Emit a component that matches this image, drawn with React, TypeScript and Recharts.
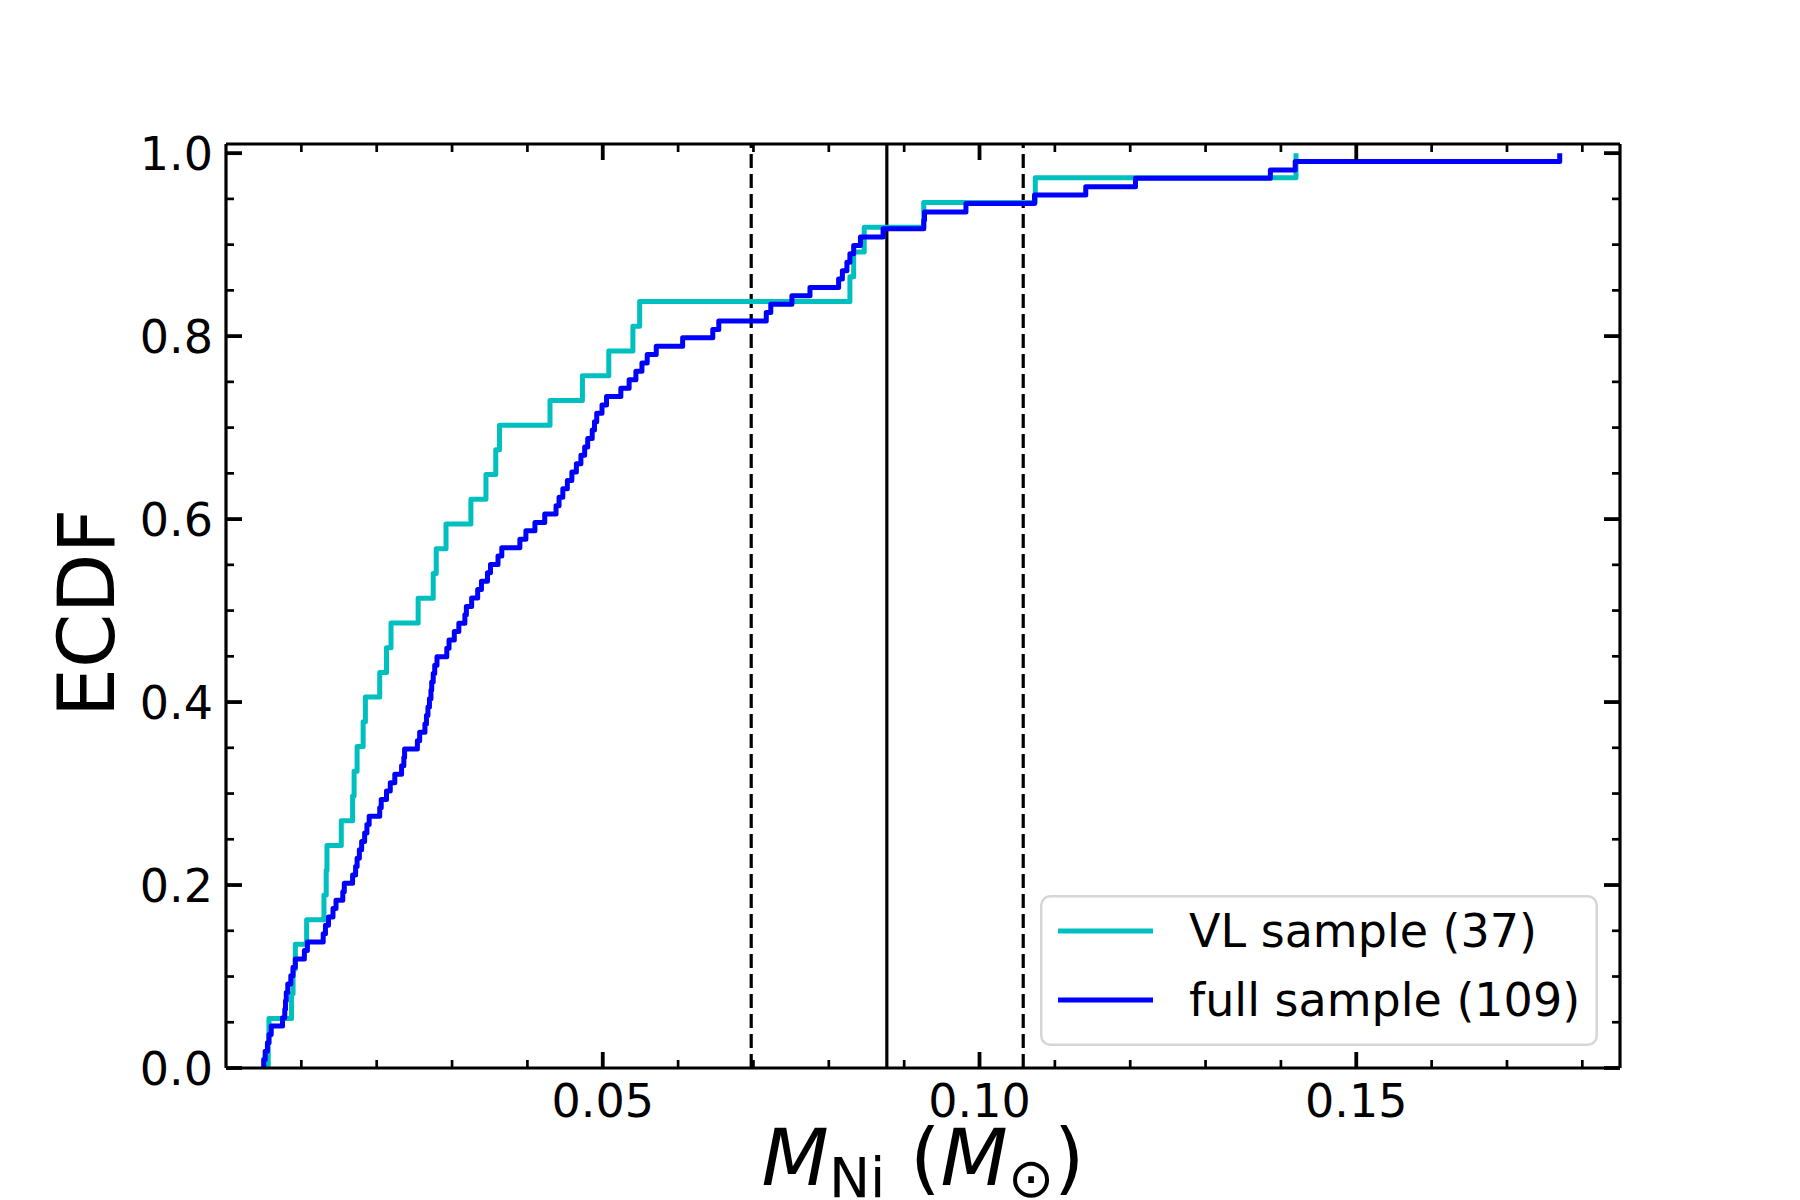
import React from 'react';
import { LineChart, Line, XAxis, YAxis, ReferenceLine, Legend } from 'recharts';

// Sorted 56Ni masses (M_sun)
const vlMass = [
  0.0056, 0.0057, 0.0087, 0.0089, 0.0092, 0.0107, 0.0130, 0.0133, 0.0134, 0.0153,
  0.0168, 0.0170, 0.0174, 0.0182, 0.0185, 0.0204, 0.0213, 0.0219, 0.0255, 0.0275,
  0.0279, 0.0292, 0.0325, 0.0345, 0.0358, 0.0363, 0.0430, 0.0473, 0.0508, 0.0540,
  0.0549, 0.0828, 0.0833, 0.0847, 0.0926, 0.1074, 0.1420,
];

const fullMass = [
  0.0050, 0.0052, 0.0055, 0.0057, 0.0060, 0.0075, 0.0078, 0.0079, 0.0080, 0.0082,
  0.0086, 0.0089, 0.0092, 0.0104, 0.0108, 0.0129, 0.0132, 0.0136, 0.0142, 0.0146,
  0.0155, 0.0157, 0.0168, 0.0172, 0.0174, 0.0177, 0.0180, 0.0184, 0.0187, 0.0190,
  0.0204, 0.0206, 0.0213, 0.0218, 0.0224, 0.0233, 0.0236, 0.0237, 0.0254, 0.0257,
  0.0264, 0.0266, 0.0268, 0.0270, 0.0272, 0.0273, 0.0275, 0.0277, 0.0280, 0.0293,
  0.0296, 0.0303, 0.0309, 0.0317, 0.0319, 0.0326, 0.0334, 0.0339, 0.0347, 0.0351,
  0.0361, 0.0366, 0.0390, 0.0398, 0.0410, 0.0423, 0.0438, 0.0442, 0.0447, 0.0453,
  0.0459, 0.0465, 0.0471, 0.0476, 0.0480, 0.0486, 0.0489, 0.0492, 0.0499, 0.0505,
  0.0524, 0.0535, 0.0544, 0.0552, 0.0559, 0.0571, 0.0606, 0.0646, 0.0654, 0.0717,
  0.0723, 0.0751, 0.0775, 0.0813, 0.0818, 0.0824, 0.0828, 0.0833, 0.0842, 0.0872,
  0.0926, 0.0927, 0.0982, 0.1073, 0.1141, 0.1207, 0.1386, 0.1419, 0.1770,
];

const seriesNames = ['VL sample (37)', 'full sample (109)'];
const seriesColors = ['#00bfbf', '#0000ff'];

// vertical reference lines: centre (solid) and the two dashed bounds
const meanLine = 0.0877;
const sigmaLines = [0.0697, 0.1058];

const xMajorTicks = [0.05, 0.10, 0.15];
const xAllTicks = [0.01, 0.02, 0.03, 0.04, 0.05, 0.06, 0.07, 0.08, 0.09, 0.10, 0.11, 0.12, 0.13, 0.14, 0.15, 0.16, 0.17, 0.18];
const yMajorTicks = [0.0, 0.2, 0.4, 0.6, 0.8, 1.0];
const yAllTicks = [0.0, 0.05, 0.1, 0.15, 0.2, 0.25, 0.3, 0.35, 0.4, 0.45, 0.5, 0.55, 0.6, 0.65, 0.7, 0.75, 0.8, 0.85, 0.9, 0.95, 1.0];

const xDomain = [0, 0.185];
const yDomain = [0, 1.01];

const ecdf = (arr: number[]) => {
  const n = arr.length;
  const pts = [{ x: arr[0], y: 0 }];
  arr.forEach((x, i) => pts.push({ x, y: (i + 1) / n }));
  return pts;
};

const vlSteps = ecdf(vlMass);
const fullSteps = ecdf(fullMass);

const FONT = 'DejaVu Sans, Liberation Sans, sans-serif';
const isMajor = (v: number, majors: number[]) => majors.some((m) => Math.abs(m - v) < 1e-9);

// plot frame (svg coordinates), set by the margins and axis sizes below
const PLOT_LEFT = 218;
const PLOT_TOP = 136;
const PLOT_RIGHT = 1612;
const PLOT_BOTTOM = 1060;

const MAJ_LEN = 16;
const MIN_LEN = 8;
const MAJ_W = 3.8;
const MIN_W = 2.7;
const AXIS_W = 3.2;
const TICK_FONT = 46;

const BottomTick = (props: any) => {
  const { x, payload } = props;
  const v = payload.value;
  const major = isMajor(v, xMajorTicks);
  const y = PLOT_BOTTOM;
  return (
    <g>
      <line x1={x} x2={x} y1={y} y2={y - (major ? MAJ_LEN : MIN_LEN)} stroke="#000" strokeWidth={major ? MAJ_W : MIN_W} />
      {major && (
        <text x={x} y={y + 49} textAnchor="middle" fontSize={TICK_FONT} fontFamily={FONT} fill="#000">
          {v.toFixed(2)}
        </text>
      )}
    </g>
  );
};

const TopTick = (props: any) => {
  const { x, payload } = props;
  const major = isMajor(payload.value, xMajorTicks);
  const y = PLOT_TOP;
  return <line x1={x} x2={x} y1={y} y2={y + (major ? MAJ_LEN : MIN_LEN)} stroke="#000" strokeWidth={major ? MAJ_W : MIN_W} />;
};

const LeftTick = (props: any) => {
  const { y, payload } = props;
  const v = payload.value;
  const major = isMajor(v, yMajorTicks);
  const x = PLOT_LEFT;
  return (
    <g>
      <line x1={x} x2={x + (major ? MAJ_LEN : MIN_LEN)} y1={y} y2={y} stroke="#000" strokeWidth={major ? MAJ_W : MIN_W} />
      {major && (
        <text x={x - 13} y={y + 16.5} textAnchor="end" fontSize={TICK_FONT} fontFamily={FONT} fill="#000">
          {v.toFixed(1)}
        </text>
      )}
    </g>
  );
};

const RightTick = (props: any) => {
  const { y, payload } = props;
  const major = isMajor(payload.value, yMajorTicks);
  const x = PLOT_RIGHT;
  return <line x1={x} x2={x - (major ? MAJ_LEN : MIN_LEN)} y1={y} y2={y} stroke="#000" strokeWidth={major ? MAJ_W : MIN_W} />;
};

const XLabel = (props: any) => {
  const vb = props.viewBox || { x: PLOT_LEFT, y: PLOT_BOTTOM, width: PLOT_RIGHT - PLOT_LEFT, height: 132 };
  const cx = vb.x + vb.width / 2;
  const base = PLOT_BOTTOM + 117;
  return (
    <text x={cx} y={base} textAnchor="middle" fontSize={78} fontFamily={FONT} fill="#000">
      <tspan fontStyle="italic">M</tspan>
      <tspan fontSize={55} dy={12}>Ni</tspan>
      <tspan dy={-12}>{' ('}</tspan>
      <tspan fontStyle="italic">M</tspan>
      <tspan fontSize={55} dy={12}>{'\u2299'}</tspan>
      <tspan dy={-12}>)</tspan>
    </text>
  );
};

const YLabel = () => {
  const cy = (PLOT_TOP + PLOT_BOTTOM) / 2 + 7;
  const bx = 106;
  return (
    <text x={bx} y={cy} transform={`rotate(-90, ${bx}, ${cy})`} textAnchor="middle" fontSize={78} fontFamily={FONT} fill="#000">
      ECDF
    </text>
  );
};

const LegendBox = (props: any) => {
  const payload = props.payload || [];
  return (
    <svg width={558} height={151} style={{ display: 'block' }}>
      <rect x={1.25} y={1.25} width={555.5} height={148.5} rx={9} ry={9} fill="rgba(255,255,255,0.8)" stroke="#d6d6d6" strokeWidth={2.5} />
      {payload.map((e: any, i: number) => (
        <g key={i}>
          <line x1={18} x2={113} y1={36 + i * 69} y2={36 + i * 69} stroke={e.color} strokeWidth={5} />
          <text x={149} y={36 + i * 69 + 16} fontSize={TICK_FONT} fontFamily={FONT} fill="#000">
            {e.value}
          </text>
        </g>
      ))}
    </svg>
  );
};

const axisLine = { stroke: '#000', strokeWidth: AXIS_W };

export default function App() {
  return (
    <LineChart width={1792} height={1192} margin={{ top: PLOT_TOP - 1, right: 1792 - PLOT_RIGHT - 1, bottom: 0, left: 0 }}>
      <XAxis
        xAxisId="t"
        type="number"
        dataKey="x"
        orientation="top"
        height={1}
        domain={xDomain}
        allowDataOverflow
        ticks={xAllTicks}
        interval={0}
        tickSize={0}
        tickMargin={0}
        tickLine={false}
        tick={TopTick}
        axisLine={axisLine}
      />
      <XAxis
        xAxisId="b"
        type="number"
        dataKey="x"
        orientation="bottom"
        height={132}
        domain={xDomain}
        allowDataOverflow
        ticks={xAllTicks}
        interval={0}
        tickSize={0}
        tickMargin={0}
        tickLine={false}
        tick={BottomTick}
        axisLine={axisLine}
        label={XLabel}
      />
      <YAxis
        yAxisId="l"
        type="number"
        orientation="left"
        width={PLOT_LEFT}
        domain={yDomain}
        allowDataOverflow
        ticks={yAllTicks}
        interval={0}
        tickSize={0}
        tickMargin={0}
        tickLine={false}
        tick={LeftTick}
        axisLine={axisLine}
        label={YLabel}
      />
      <YAxis
        yAxisId="r"
        type="number"
        orientation="right"
        width={1}
        domain={yDomain}
        allowDataOverflow
        ticks={yAllTicks}
        interval={0}
        tickSize={0}
        tickMargin={0}
        tickLine={false}
        tick={RightTick}
        axisLine={axisLine}
      />
      <ReferenceLine xAxisId="b" yAxisId="l" x={sigmaLines[0]} stroke="#000" strokeWidth={3.2} strokeDasharray="14 6" />
      <ReferenceLine xAxisId="b" yAxisId="l" x={meanLine} stroke="#000" strokeWidth={3.2} />
      <ReferenceLine xAxisId="b" yAxisId="l" x={sigmaLines[1]} stroke="#000" strokeWidth={3.2} strokeDasharray="14 6" />
      <Line
        xAxisId="b"
        yAxisId="l"
        data={vlSteps}
        dataKey="y"
        type="stepAfter"
        name={seriesNames[0]}
        stroke={seriesColors[0]}
        strokeWidth={5}
        strokeLinejoin="round"
        dot={false}
        activeDot={false}
        isAnimationActive={false}
      />
      <Line
        xAxisId="b"
        yAxisId="l"
        data={fullSteps}
        dataKey="y"
        type="stepAfter"
        name={seriesNames[1]}
        stroke={seriesColors[1]}
        strokeWidth={5}
        strokeLinejoin="round"
        dot={false}
        activeDot={false}
        isAnimationActive={false}
      />
      <Legend
        layout="vertical"
        align="center"
        verticalAlign="middle"
        content={LegendBox}
        wrapperStyle={{ position: 'absolute', left: 1032, top: 887, width: 558, height: 151, margin: 0, padding: 0 }}
      />
    </LineChart>
  );
}
